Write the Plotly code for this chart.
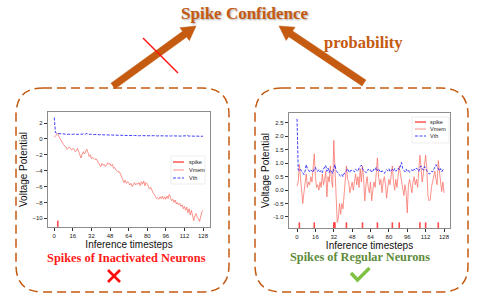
import numpy as np
import plotly.graph_objects as go

W, H = 485, 300

# ---------------- data ----------------
left_vmem = [0.2, 0.4, 0.6, 0.7, 0.3, 0.0, -0.3, -0.5, -0.7, -0.9,
             -1.0, -1.3, -1.1, -1.0, -1.2, -1.4, -1.2, -1.3, -1.6, -1.5,
             -1.2, -1.6, -1.9, -2.4, -1.9, -1.6, -1.9, -1.5, -1.3, -1.7,
             -2.2, -2.0, -2.5, -2.3, -2.4, -2.6, -2.5, -2.8, -3.0, -3.2,
             -3.5, -3.1, -3.3, -3.2, -3.5, -3.3, -3.0, -3.2, -3.1, -3.4,
             -3.2, -3.7, -3.6, -3.9, -4.0, -4.2, -4.1, -4.5, -4.8, -5.3,
             -5.5, -5.2, -5.6, -5.4, -5.5, -5.8, -5.6, -6.0, -5.7, -5.5,
             -5.8, -5.6, -5.7, -5.5, -5.9, -5.4, -5.7, -5.3, -5.9, -5.5,
             -5.7, -6.0, -6.3, -6.1, -6.6, -6.8, -7.0, -7.3, -7.5, -7.4,
             -7.6, -7.3, -7.5, -7.2, -7.6, -7.3, -7.6, -7.2, -7.5, -7.0,
             -7.4, -7.8, -7.6, -8.0, -7.7, -8.2, -8.0, -8.3, -8.1, -8.5,
             -8.3, -8.8, -8.5, -9.0, -8.6, -9.3, -8.8, -9.6, -9.0, -9.8,
             -10.3, -9.7, -9.4, -9.9, -10.0, -10.4, -9.6, -9.2, -9.0]
left_vth = [2.70, 0.80, 0.74, 0.70, 0.68, 0.66, 0.64, 0.65, 0.62, 0.60,
            0.62, 0.58, 0.60, 0.57, 0.62, 0.60, 0.58, 0.63, 0.60, 0.56,
            0.60, 0.58, 0.62, 0.57, 0.60, 0.65, 0.62, 0.60, 0.72, 0.62,
            0.58, 0.60, 0.56, 0.58, 0.55, 0.57, 0.54, 0.56, 0.55, 0.53,
            0.55, 0.52, 0.54, 0.51, 0.53, 0.50, 0.52, 0.50, 0.49, 0.51,
            0.48, 0.50, 0.47, 0.49, 0.46, 0.48, 0.45, 0.47, 0.45, 0.44,
            0.46, 0.44, 0.45, 0.43, 0.45, 0.42, 0.44, 0.43, 0.42, 0.44,
            0.41, 0.43, 0.42, 0.40, 0.42, 0.41, 0.43, 0.40, 0.42, 0.41,
            0.40, 0.42, 0.39, 0.41, 0.40, 0.42, 0.39, 0.41, 0.40, 0.38,
            0.40, 0.39, 0.41, 0.38, 0.40, 0.39, 0.37, 0.39, 0.38, 0.40,
            0.37, 0.39, 0.38, 0.36, 0.38, 0.37, 0.39, 0.36, 0.38, 0.37,
            0.36, 0.38, 0.35, 0.40, 0.45, 0.38, 0.36, 0.37, 0.35, 0.38,
            0.36, 0.35, 0.37, 0.34, 0.36, 0.35, 0.33, 0.35, 0.34]
left_spikes = [3]

right_vmem = [0.15, 0.30, 0.95, 0.50, 0.10, -0.50, -0.10, 0.30, 0.60, 0.10,
              0.30, 0.20, 0.50, 0.30, 0.90, 1.35, 0.50, 0.10, 0.20, 0.00,
              0.30, 0.10, 0.60, 0.20, 0.40, 0.70, -0.25, 0.50, 0.30, 0.90,
              0.40, 0.10, 1.85, 1.00, -0.30, -1.20, -1.05, -0.50, -0.90, -0.50,
              -0.70, -0.10, 0.20, 0.90, 0.40, 0.30, -0.10, 0.10, 0.30, 0.00,
              0.40, 0.60, 0.20, 0.50, 0.10, 0.80, 0.30, 0.90, 0.40, -0.40,
              0.20, 0.50, 0.10, -0.10, 0.30, -0.40, 0.00, 0.30, 0.10, 0.60,
              1.20, 0.50, 0.20, 0.40, -0.10, 0.30, 0.50, 0.20, -0.30, 0.10,
              0.40, 0.20, 0.60, 0.90, 0.30, 0.00, 0.40, 0.10, 0.50, 0.90,
              0.60, 0.30, 0.00, -0.20, 0.20, -0.10, -0.85, 0.20, 0.40, 0.10,
              -0.10, 0.30, 0.50, 0.20, 0.40, 0.10, 0.60, 1.30, 0.80, 0.30,
              0.60, 0.90, 1.30, 0.80, -0.20, -0.40, -0.35, 0.10, 0.30, 0.50,
              0.70, 0.40, 0.20, 1.10, 0.60, 0.30, -0.05, 0.30, -0.10]
right_vth = [2.65, 0.75, 0.72, 0.78, 0.70, 0.62, 0.58, 0.70, 0.95, 0.80,
             0.72, 0.68, 0.75, 0.70, 0.66, 0.80, 0.85, 0.72, 0.70, 0.76,
             0.68, 0.74, 0.65, 0.78, 0.88, 0.92, 0.70, 0.82, 0.66, 0.75,
             0.70, 0.62, 0.80, 0.95, 0.72, 0.68, 0.60, 0.55, 0.52, 0.58,
             0.50, 0.62, 0.65, 0.72, 0.80, 0.70, 0.65, 0.75, 0.70, 0.72,
             0.68, 0.78, 0.74, 0.70, 0.82, 0.88, 0.93, 0.80, 0.72, 0.70,
             0.65, 0.68, 0.78, 0.72, 0.75, 0.66, 0.70, 0.80, 0.76, 0.85,
             0.72, 0.78, 0.70, 0.65, 0.72, 0.68, 0.62, 0.70, 0.76, 0.72,
             0.80, 0.68, 0.75, 0.78, 0.72, 0.80, 0.70, 0.74, 0.82, 0.76,
             0.90, 1.03, 0.80, 0.72, 0.68, 0.78, 0.70, 0.74, 0.66, 0.72,
             0.76, 0.70, 0.78, 0.74, 0.82, 0.76, 0.70, 0.85, 0.90, 0.78,
             0.75, 0.88, 0.82, 0.72, 0.65, 0.60, 0.62, 0.70, 0.68, 0.75,
             0.85, 0.95, 0.88, 0.78, 0.72, 0.80, 0.68, 0.75, 0.80]
right_spikes = [2, 15, 32, 33, 43, 57, 70, 83, 89, 107, 112, 123]

x_ticks = [0, 16, 32, 48, 64, 80, 96, 112, 128]
left_yticks = [2, 0, -2, -4, -6, -8, -10]
right_yticks = [2.5, 2.0, 1.5, 1.0, 0.5, 0.0, -0.5, -1.0]
right_yticklabels = ["2.5", "2.0", "1.5", "1.0", "0.5", "0.0", "-0.5", "-1.0"]

series_names = ["spike", "Vmem", "Vth"]
title_text = "Spike Confidence"
prob_text = "probability"
left_caption = "Spikes of Inactivated Neurons"
right_caption = "Spikes of Regular Neurons"
x_title = "Inference timesteps"
y_title = "Voltage Potential"

# ---------------- style ----------------
BROWN = "#C55A11"
SPIKE_C = "rgba(255,40,40,0.85)"
VMEM_C = "rgba(250,110,100,0.75)"
VTH_C = "rgba(30,30,255,0.85)"
FRAME_C = "#8c8c8c"
TICK_FONT = dict(family="Liberation Sans, Arial", size=6, color="#222")

L_YR = [-11.1, 3.4]
R_YR = [-1.41, 2.87]
XR_L = [-5.4, 134]
XR_R = [-7.0, 133.2]


def px(x):
    return x / W


def py(y):
    return 1 - y / H


def spike_xy(times, lo, hi):
    xs, ys = [], []
    for t in times:
        xs += [t, t, None]
        ys += [lo, hi, None]
    return xs, ys


fig = go.Figure()

# left plot traces
lsx, lsy = spike_xy(left_spikes, L_YR[0] - 1, -10.3)
fig.add_trace(go.Scatter(x=lsx, y=lsy, mode="lines", name=series_names[0],
                         line=dict(color=SPIKE_C, width=1.6), showlegend=False,
                         xaxis="x", yaxis="y"))
fig.add_trace(go.Scatter(x=list(range(len(left_vmem))), y=left_vmem, mode="lines",
                         name=series_names[1], line=dict(color=VMEM_C, width=1),
                         showlegend=False, xaxis="x", yaxis="y"))
fig.add_trace(go.Scatter(x=list(range(len(left_vth))), y=left_vth, mode="lines",
                         name=series_names[2], line=dict(color=VTH_C, width=1, dash="3px,1.5px"),
                         showlegend=False, xaxis="x", yaxis="y"))

# right plot traces
rsx, rsy = spike_xy(right_spikes, R_YR[0] - 0.1, -1.2)
fig.add_trace(go.Scatter(x=rsx, y=rsy, mode="lines", name=series_names[0],
                         line=dict(color=SPIKE_C, width=1.6), showlegend=False,
                         xaxis="x2", yaxis="y2"))
fig.add_trace(go.Scatter(x=list(range(len(right_vmem))), y=right_vmem, mode="lines",
                         name=series_names[1], line=dict(color=VMEM_C, width=1),
                         showlegend=False, xaxis="x2", yaxis="y2"))
fig.add_trace(go.Scatter(x=list(range(len(right_vth))), y=right_vth, mode="lines",
                         name=series_names[2], line=dict(color=VTH_C, width=1, dash="3px,1.5px"),
                         showlegend=False, xaxis="x2", yaxis="y2"))

axis_common = dict(showgrid=False, zeroline=False, showline=True, mirror=True,
                   linecolor=FRAME_C, linewidth=1.3, ticks="outside", ticklen=3,
                   tickwidth=0.8, tickcolor="#333", tickfont=TICK_FONT, automargin=False)
title_font = dict(family="Liberation Sans, Arial", size=10, color="#111")

fig.update_layout(
    template="none",
    width=W, height=H, margin=dict(l=0, r=0, t=0, b=0, pad=0),
    paper_bgcolor="white", plot_bgcolor="white", showlegend=False,
    xaxis=dict(domain=[px(48), px(210)], range=XR_L, tickvals=x_ticks, anchor="y",
               title=dict(text=x_title, font=title_font, standoff=0), **axis_common),
    yaxis=dict(domain=[py(227), py(112)], range=L_YR, tickvals=left_yticks, anchor="x",
               title=dict(text=y_title, font=title_font, standoff=2), **axis_common),
    xaxis2=dict(domain=[px(289), px(450)], range=XR_R, tickvals=x_ticks, anchor="y2",
                title=dict(text=x_title, font=title_font, standoff=0), **axis_common),
    yaxis2=dict(domain=[py(228), py(113)], range=R_YR, tickvals=right_yticks,
                ticktext=right_yticklabels, anchor="x2",
                title=dict(text=y_title, font=title_font, standoff=1), **axis_common),
)

shapes = []
annotations = []


def rounded_box(x0, y0, x1, y1, r):
    p = (f"M {px(x0 + r)},{py(y0)} L {px(x1 - r)},{py(y0)} "
         f"Q {px(x1)},{py(y0)} {px(x1)},{py(y0 + r)} "
         f"L {px(x1)},{py(y1 - r)} Q {px(x1)},{py(y1)} {px(x1 - r)},{py(y1)} "
         f"L {px(x0 + r)},{py(y1)} Q {px(x0)},{py(y1)} {px(x0)},{py(y1 - r)} "
         f"L {px(x0)},{py(y0 + r)} Q {px(x0)},{py(y0)} {px(x0 + r)},{py(y0)} Z")
    return dict(type="path", xref="paper", yref="paper", path=p,
                line=dict(color=BROWN, width=1.5, dash="9px,5px"), layer="below")


shapes.append(rounded_box(16, 88, 229, 292, 27))
shapes.append(rounded_box(255, 88, 468, 292, 27))


def arrow(tail, tip, w=7.0, hw=16.0, hl=14.0):
    t = np.array(tail, float)
    h = np.array(tip, float)
    d = h - t
    L = np.linalg.norm(d)
    u = d / L
    n = np.array([-u[1], u[0]])
    b = h - u * hl
    pts = [t + n * w / 2, b + n * w / 2, b + n * hw / 2, h,
           b - n * hw / 2, b - n * w / 2, t - n * w / 2]
    p = "M " + " L ".join(f"{px(q[0])},{py(q[1])}" for q in pts) + " Z"
    return dict(type="path", xref="paper", yref="paper", path=p,
                fillcolor=BROWN, line=dict(color=BROWN, width=0.5))


shapes.append(arrow((113, 86), (196, 26)))
shapes.append(arrow((364, 83), (279, 26)))
# red strike-through on the left arrow
shapes.append(dict(type="line", xref="paper", yref="paper",
                   x0=px(143), y0=py(38), x1=px(178), y1=py(73),
                   line=dict(color="#FF1010", width=1.5)))

# red cross mark and green check mark
for (a, b, c, d) in [(108, 270, 120, 282), (120, 270, 108, 282)]:
    shapes.append(dict(type="line", xref="paper", yref="paper",
                       x0=px(a), y0=py(b), x1=px(c), y1=py(d),
                       line=dict(color="#FF1010", width=2.6)))
shapes.append(dict(type="path", xref="paper", yref="paper",
                   path=f"M {px(351)},{py(273)} L {px(357.5)},{py(280)} L {px(369.5)},{py(268)}",
                   line=dict(color="#7DC242", width=3.4)))


def legend(x0, y0, x1, y1, rows_y, line_x0, line_x1, text_x):
    shapes.append(dict(type="rect", xref="paper", yref="paper",
                       x0=px(x0), y0=py(y0), x1=px(x1), y1=py(y1),
                       fillcolor="rgba(255,255,255,0.85)",
                       line=dict(color="#e2e2e2", width=0.6)))
    styles = [dict(color=SPIKE_C, width=1.4), dict(color=VMEM_C, width=1),
              dict(color=VTH_C, width=1, dash="3px,1.5px")]
    for name, yy, st in zip(series_names, rows_y, styles):
        shapes.append(dict(type="line", xref="paper", yref="paper",
                           x0=px(line_x0), x1=px(line_x1), y0=py(yy), y1=py(yy), line=st))
        annotations.append(dict(text=name, x=px(text_x), y=py(yy), xref="paper", yref="paper",
                                xanchor="left", yanchor="middle", showarrow=False,
                                font=dict(family="Liberation Sans, Arial", size=5.5, color="#222")))


legend(171, 156, 205, 184, [162, 170, 178], 173, 184, 187)
legend(412, 117, 449, 143, [122, 129, 136], 415, 426, 428)

serif_bold = "Liberation Serif, Times New Roman"
annotations.append(dict(text=f"<b>{title_text}</b>", x=px(244.5), y=py(13), xref="paper", yref="paper",
                        showarrow=False, xanchor="center", yanchor="middle",
                        font=dict(family=serif_bold, size=17, color=BROWN,
                                  shadow="1px 1px 2px rgba(0,0,0,0.35)")))
annotations.append(dict(text=f"<b>{prob_text}</b>", x=px(363), y=py(43), xref="paper", yref="paper",
                        showarrow=False, xanchor="center", yanchor="middle",
                        font=dict(family=serif_bold, size=16.5, color=BROWN)))
annotations.append(dict(text=f"<b>{left_caption}</b>", x=px(126), y=py(258), xref="paper", yref="paper",
                        showarrow=False, xanchor="center", yanchor="middle",
                        font=dict(family=serif_bold, size=12.4, color="#FF1A1A")))
annotations.append(dict(text=f"<b>{right_caption}</b>", x=px(360), y=py(257), xref="paper", yref="paper",
                        showarrow=False, xanchor="center", yanchor="middle",
                        font=dict(family=serif_bold, size=12.3, color="#5E8C3A")))

fig.update_layout(shapes=shapes, annotations=annotations)
fig.write_html("out.html", config={"displayModeBar": False},
               post_script="document.body.style.margin='0px';document.body.style.padding='0px';")
